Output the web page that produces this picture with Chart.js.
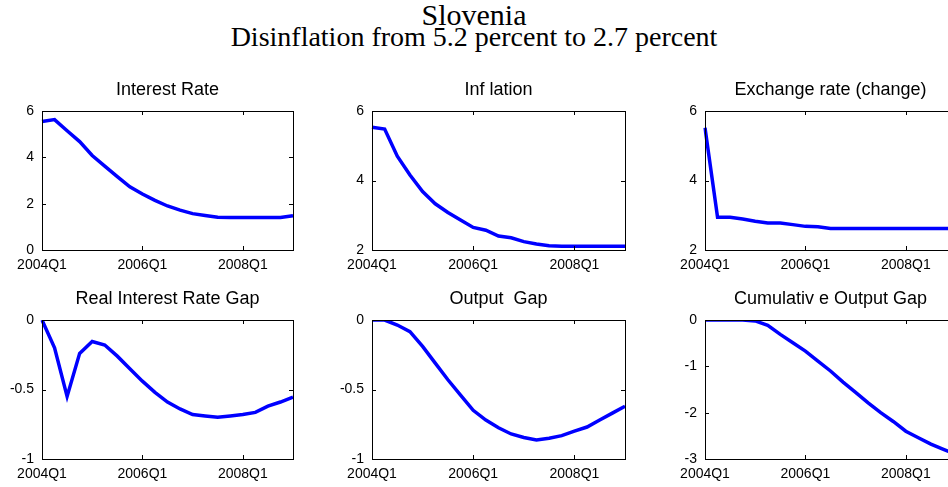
<!DOCTYPE html>
<html>
<head>
<meta charset="utf-8">
<script src="https://cdn.jsdelivr.net/npm/chart.js@4.4.0/dist/chart.umd.min.js"></script>
<style>
  body { margin: 0; width: 948px; height: 487px; overflow: hidden; background: #fff; position: relative; }
  .head { position: absolute; left: 0; width: 948px; text-align: center; font-family: "Liberation Serif", "Times New Roman", serif; color: #000; white-space: nowrap; }
  #title { top: 0px; font-size: 30px; line-height: 30px; }
  #subtitle { top: 23px; font-size: 28px; line-height: 28px; }
  canvas { position: absolute; }
</style>
</head>
<body>
<div id="title" class="head">Slovenia</div>
<div id="subtitle" class="head">Disinflation from 5.2 percent to 2.7 percent</div>

<script>
const quarters = [
  '2004Q1', '2004Q2', '2004Q3', '2004Q4',
  '2005Q1', '2005Q2', '2005Q3', '2005Q4',
  '2006Q1', '2006Q2', '2006Q3', '2006Q4',
  '2007Q1', '2007Q2', '2007Q3', '2007Q4',
  '2008Q1', '2008Q2', '2008Q3', '2008Q4',
  '2009Q1'
];
const xTickLabels = ['2004Q1', '2006Q1', '2008Q1'];

const interestRate = [5.55, 5.63, 5.15, 4.68, 4.08, 3.62, 3.17, 2.73, 2.42, 2.14, 1.90, 1.72, 1.57, 1.49, 1.41, 1.40, 1.40, 1.40, 1.40, 1.40, 1.48];
const inflation = [5.53, 5.48, 4.70, 4.16, 3.68, 3.33, 3.08, 2.86, 2.65, 2.57, 2.40, 2.35, 2.24, 2.17, 2.12, 2.11, 2.11, 2.11, 2.11, 2.11, 2.11];
const exchangeRate = [5.52, 2.94, 2.94, 2.89, 2.83, 2.78, 2.78, 2.73, 2.68, 2.67, 2.62, 2.62, 2.62, 2.62, 2.62, 2.62, 2.62, 2.62, 2.62, 2.62, 2.62];
const realRateGap = [0, -0.20, -0.55, -0.24, -0.155, -0.18, -0.26, -0.35, -0.44, -0.52, -0.59, -0.64, -0.68, -0.69, -0.70, -0.69, -0.68, -0.665, -0.62, -0.59, -0.555];
const outputGap = [0, 0, -0.036, -0.084, -0.19, -0.31, -0.43, -0.54, -0.65, -0.72, -0.775, -0.82, -0.845, -0.863, -0.85, -0.832, -0.80, -0.77, -0.72, -0.67, -0.62];
const cumOutputGap = [0, 0, 0, 0, -0.02, -0.115, -0.31, -0.49, -0.67, -0.885, -1.10, -1.34, -1.56, -1.79, -2.00, -2.19, -2.40, -2.54, -2.68, -2.79, -2.90];

const ticksRate = [0, 2, 4, 6];
const ticksTwoSix = [2, 4, 6];
const ticksGap = [-1, -0.5, 0];
const ticksCum = [-3, -2, -1, 0];

const sansFont = '"Liberation Sans", Arial, sans-serif';

// plot box for each panel: left, top, right, bottom (pixels on the page)
const panels = [
  { title: 'Interest Rate', data: interestRate, yTicks: ticksRate, box: [42, 111, 293, 250] },
  { title: 'Inf lation', data: inflation, yTicks: ticksTwoSix, box: [372, 111, 625, 250] },
  { title: 'Exchange rate (change)', data: exchangeRate, yTicks: ticksTwoSix, box: [705, 111, 956, 250] },
  { title: 'Real Interest Rate Gap', data: realRateGap, yTicks: ticksGap, box: [42, 320, 293, 459] },
  { title: 'Output  Gap', data: outputGap, yTicks: ticksGap, box: [372, 320, 625, 459] },
  { title: 'Cumulativ e Output Gap', data: cumOutputGap, yTicks: ticksCum, box: [705, 320, 956, 459] }
];

const SIDE = 50, TOP = 35, BOTTOM = 30;

// matlab-like box with inward ticks on all four sides
const boxFrame = {
  id: 'boxFrame',
  afterDatasetsDraw(chart) {
    const { ctx, chartArea: a, scales: { x, y } } = chart;
    const len = 4;
    ctx.save();
    ctx.strokeStyle = '#000';
    ctx.lineWidth = 1;
    ctx.beginPath();
    x.ticks.forEach((t, i) => {
      const px = Math.round(x.getPixelForTick(i)) + 0.5;
      ctx.moveTo(px, a.bottom); ctx.lineTo(px, a.bottom - len);
      ctx.moveTo(px, a.top); ctx.lineTo(px, a.top + len);
    });
    y.ticks.forEach((t, i) => {
      const py = Math.round(y.getPixelForTick(i)) + 0.5;
      ctx.moveTo(a.left, py); ctx.lineTo(a.left + len, py);
      ctx.moveTo(a.right, py); ctx.lineTo(a.right - len, py);
    });
    ctx.stroke();
    ctx.strokeRect(Math.round(a.left) + 0.5, Math.round(a.top) + 0.5,
      Math.round(a.right - a.left), Math.round(a.bottom - a.top));
    ctx.restore();
  }
};

panels.forEach(p => {
  const [l, t, r, b] = p.box;
  const canvas = document.createElement('canvas');
  canvas.width = (r - l) + 2 * SIDE;
  canvas.height = (b - t) + TOP + BOTTOM;
  canvas.style.left = (l - SIDE) + 'px';
  canvas.style.top = (t - TOP) + 'px';
  document.body.appendChild(canvas);

  new Chart(canvas.getContext('2d'), {
    type: 'line',
    data: {
      labels: quarters,
      datasets: [{
        data: p.data,
        borderColor: '#0000ff',
        borderWidth: 3.5,
        pointRadius: 0,
        tension: 0,
        fill: false
      }]
    },
    options: {
      responsive: false,
      animation: false,
      devicePixelRatio: 1,
      layout: { padding: { left: 0, right: SIDE, top: 0, bottom: 0 } },
      plugins: {
        legend: { display: false },
        tooltip: { enabled: false },
        title: {
          display: true,
          fullSize: false, // centre over the plot box, not the canvas
          text: p.title,
          color: '#000',
          font: { family: sansFont, size: 18, weight: 'normal', lineHeight: 1 },
          padding: { top: 5, bottom: 12 }
        }
      },
      scales: {
        x: {
          type: 'category',
          offset: false,
          grid: { display: false, drawTicks: false },
          border: { display: false },
          ticks: {
            autoSkip: false,
            maxRotation: 0,
            padding: 7,
            color: '#000',
            font: { family: sansFont, size: 14 }
          },
          afterBuildTicks: scale => {
            scale.ticks = scale.ticks.filter(tk => xTickLabels.includes(quarters[tk.value]));
          },
          afterFit: scale => { scale.height = BOTTOM; }
        },
        y: {
          min: p.yTicks[0],
          max: p.yTicks[p.yTicks.length - 1],
          grid: { display: false, drawTicks: false },
          border: { display: false },
          ticks: {
            padding: 8,
            color: '#000',
            font: { family: sansFont, size: 14 },
            callback: v => String(v)
          },
          afterBuildTicks: scale => {
            scale.ticks = p.yTicks.map(v => ({ value: v }));
          },
          afterFit: scale => { scale.width = SIDE; }
        }
      }
    },
    plugins: [boxFrame]
  });
});
</script>
</body>
</html>
